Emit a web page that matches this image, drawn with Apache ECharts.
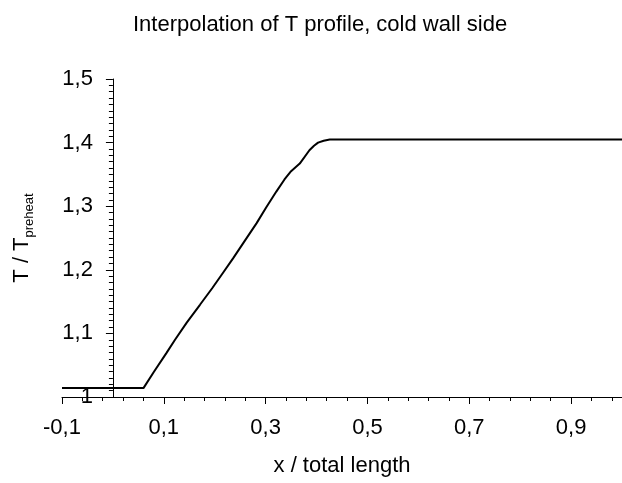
<!DOCTYPE html>
<html>
<head>
<meta charset="utf-8">
<script src="https://cdn.jsdelivr.net/npm/echarts@6/dist/echarts.min.js"></script>
<style>
  html, body { margin: 0; padding: 0; background: #fff; }
  #chart { width: 622px; height: 483px; }
</style>
</head>
<body>
<div id="chart"></div>
<script>
// Temperature profile along the cold wall (x / total length vs T / T_preheat)
const xPos = [-0.1, 0.05, 0.053, 0.06, 0.08, 0.105, 0.122, 0.145, 0.171, 0.195, 0.216, 0.236,
              0.256, 0.282, 0.301, 0.321, 0.337, 0.35, 0.367, 0.386, 0.395, 0.403, 0.414, 0.426, 0.5, 1.0];
const tRatio = [1.014, 1.014, 1.012, 1.014, 1.039, 1.069, 1.090, 1.117, 1.145, 1.171, 1.195, 1.218,
                1.242, 1.273, 1.298, 1.323, 1.342, 1.355, 1.367, 1.388, 1.395, 1.400, 1.403, 1.405, 1.405, 1.405];

// Labelled x ticks and the finer tick step
const xTickLabels = [-0.1, 0.1, 0.3, 0.5, 0.7, 0.9];
const xMinorStep = 0.04;

const xMinorTicks = [];
for (let i = 0; ; i++) {
  const v = +(-0.1 + i * xMinorStep).toFixed(3);
  if (v > 1.0) break;
  xMinorTicks.push(v);
}

const FONT = "'Liberation Sans', Arial, sans-serif";
const fmt = v => String(+(+v).toFixed(2)).replace('.', ',');

const GRID_LEFT = 62, GRID_RIGHT = 0;
const X_MIN = -0.1, X_MAX = 1.0;

const chart = echarts.init(document.getElementById('chart'), null, { renderer: 'canvas' });

// The vertical axis crosses the horizontal one at x = 0
const plotWidth = 622 - GRID_LEFT - GRID_RIGHT;
const yAxisShift = -(0 - X_MIN) / (X_MAX - X_MIN) * plotWidth;

chart.setOption({
  animation: false,
  backgroundColor: '#fff',
  textStyle: { fontFamily: FONT, color: '#000' },
  title: {
    text: 'Interpolation of T profile, cold wall side',
    left: 128,
    top: 9,
    textStyle: { fontFamily: FONT, fontSize: 22, fontWeight: 'normal', color: '#000' }
  },
  grid: { left: GRID_LEFT, right: GRID_RIGHT, top: 79, bottom: 86, containLabel: false, outerBoundsMode: 'none' },
  xAxis: [
    {
      type: 'value',
      min: X_MIN,
      max: X_MAX,
      position: 'bottom',
      name: 'x / total length',
      nameLocation: 'middle',
      nameGap: 58,
      nameTextStyle: { fontFamily: FONT, fontSize: 22, color: '#000' },
      axisLine: { show: true, lineStyle: { color: '#000', width: 1 } },
      axisTick: { show: true, customValues: xTickLabels, length: 7, inside: false,
                  lineStyle: { color: '#000', width: 1 } },
      axisLabel: { customValues: xTickLabels, formatter: fmt, margin: 20,
                   fontFamily: FONT, fontSize: 22, color: '#000' },
      splitLine: { show: false }
    },
    {
      type: 'value',
      min: X_MIN,
      max: X_MAX,
      position: 'bottom',
      axisLine: { show: false },
      axisTick: { show: true, customValues: xMinorTicks, length: 4, inside: false,
                  lineStyle: { color: '#000', width: 1 } },
      axisLabel: { show: false },
      splitLine: { show: false }
    }
  ],
  yAxis: {
    type: 'value',
    min: 1,
    max: 1.5,
    interval: 0.1,
    position: 'left',
    offset: yAxisShift,
    name: '{a|T / T}{b|preheat}',
    nameLocation: 'middle',
    nameRotate: 90,
    nameGap: 80,
    nameTextStyle: {
      fontFamily: FONT,
      color: '#000',
      rich: {
        a: { fontFamily: FONT, fontSize: 22, lineHeight: 22, verticalAlign: 'top', color: '#000' },
        b: { fontFamily: FONT, fontSize: 13, lineHeight: 13, padding: [12, 0, 0, 0],
             verticalAlign: 'top', color: '#000' }
      }
    },
    axisLine: { show: true, onZero: false, lineStyle: { color: '#000', width: 1 } },
    axisTick: { show: true, length: 7, inside: false, lineStyle: { color: '#000', width: 1 } },
    minorTick: { show: true, splitNumber: 10, length: 4, lineStyle: { color: '#000', width: 1 } },
    axisLabel: { formatter: fmt, margin: 20, fontFamily: FONT, fontSize: 22, color: '#000' },
    splitLine: { show: false },
    minorSplitLine: { show: false }
  },
  series: [{
    type: 'line',
    xAxisIndex: 0,
    data: xPos.map((x, i) => [x, tRatio[i]]),
    showSymbol: false,
    symbol: 'none',
    smooth: false,
    lineStyle: { color: '#000', width: 2 },
    clip: false
  }]
});
</script>
</body>
</html>
